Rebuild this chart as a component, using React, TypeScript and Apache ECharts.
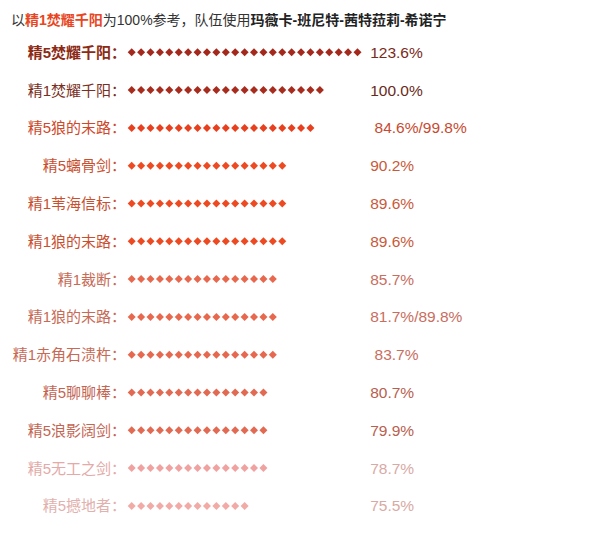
import React, { useEffect, useRef } from "react";
import * as echarts from "echarts";

const weapons = [
  "精5焚耀千阳",
  "精1焚耀千阳",
  "精5狼的末路",
  "精5螭骨剑",
  "精1苇海信标",
  "精1狼的末路",
  "精1裁断",
  "精1狼的末路",
  "精1赤角石溃杵",
  "精5聊聊棒",
  "精5浪影阔剑",
  "精5无工之剑",
  "精5撼地者",
];
// number of diamonds drawn in each row
const diamonds = [24, 20, 19, 16, 16, 16, 15, 15, 15, 14, 14, 14, 12];
const valueLabels = [
  "123.6%",
  "100.0%",
  " 84.6%/99.8%",
  "90.2%",
  "89.6%",
  "89.6%",
  "85.7%",
  "81.7%/89.8%",
  " 83.7%",
  "80.7%",
  "79.9%",
  "78.7%",
  "75.5%",
];

const diamondColors = [
  "#a5281c", "#a82c1e", "#e8401e", "#ee4a22", "#ee4a22", "#ee4a22",
  "#e8684e", "#e8684e", "#e6684e", "#e26a52", "#e26a52", "#f0a2a0", "#f2aaa6",
];
const nameColors = [
  "#8c2a14", "#7b2e20", "#cf482a", "#c9502f", "#c9502f", "#c9502f",
  "#c86a55", "#c86a55", "#c86a55", "#c46552", "#c46552", "#e4aaa8", "#e2b0ad",
];
const valueColors = [
  "#7a2a1a", "#6a2a1a", "#c84a30", "#c85a3a", "#c85a3a", "#c85a3a",
  "#c86e60", "#c86e60", "#c86e60", "#b86050", "#b86050", "#d8aaa5", "#d8aaa5",
];

const FONT = "'Liberation Sans', 'Noto Sans CJK SC', sans-serif";

export default function App() {
  const ref = useRef<HTMLDivElement>(null);
  useEffect(() => {
    if (!ref.current) return;
    const chart = echarts.init(ref.current, undefined, { renderer: "svg" });
    chart.setOption({
      animation: false,
      backgroundColor: "#ffffff",
      title: {
        left: 6,
        top: 8,
        text:
          "{a|以}{b|精1焚耀千阳}{a|为100%参考，队伍使用}{c|玛薇卡-班尼特-茜特菈莉-希诺宁}",
        textStyle: {
          fontFamily: FONT,
          fontSize: 14,
          fontWeight: "normal",
          rich: {
            a: { color: "#333333", fontSize: 14, fontWeight: "normal", fontFamily: FONT },
            b: { color: "#e8461e", fontSize: 14, fontWeight: "bold", fontFamily: FONT },
            c: { color: "#222222", fontSize: 14, fontWeight: "bold", fontFamily: FONT },
          },
        },
      },
      grid: { left: 127, right: 226.8, top: 33.4, bottom: 9.2 },
      xAxis: {
        type: "value",
        min: 0,
        max: 24.5,
        show: false,
      },
      yAxis: [
        {
          type: "category",
          inverse: true,
          data: weapons.map((w, i) => ({
            value: w + "：",
            textStyle: {
              color: nameColors[i],
              fontWeight: i === 0 ? "bold" : "normal",
            },
          })),
          axisLine: { show: false },
          axisTick: { show: false },
          splitLine: { show: false },
          axisLabel: { margin: 1, fontSize: 15, fontFamily: FONT },
        },
        {
          type: "category",
          inverse: true,
          position: "right",
          data: valueLabels.map((v, i) => ({
            value: v,
            textStyle: { color: valueColors[i] },
          })),
          axisLine: { show: false },
          axisTick: { show: false },
          splitLine: { show: false },
          axisLabel: { margin: 8, fontSize: 15.5, fontFamily: FONT },
        },
      ],
      series: [
        {
          type: "pictorialBar",
          yAxisIndex: 0,
          symbol: "diamond",
          symbolSize: [8, 8],
          symbolRepeat: true,
          symbolMargin: "0.8!",
          data: diamonds.map((n, i) => ({
            value: n,
            itemStyle: { color: diamondColors[i] },
          })),
        },
      ],
    });
    return () => chart.dispose();
  }, []);
  return (
    <div
      ref={ref}
      style={{ position: "absolute", left: 0, top: 0, width: 589, height: 534 }}
    />
  );
}
